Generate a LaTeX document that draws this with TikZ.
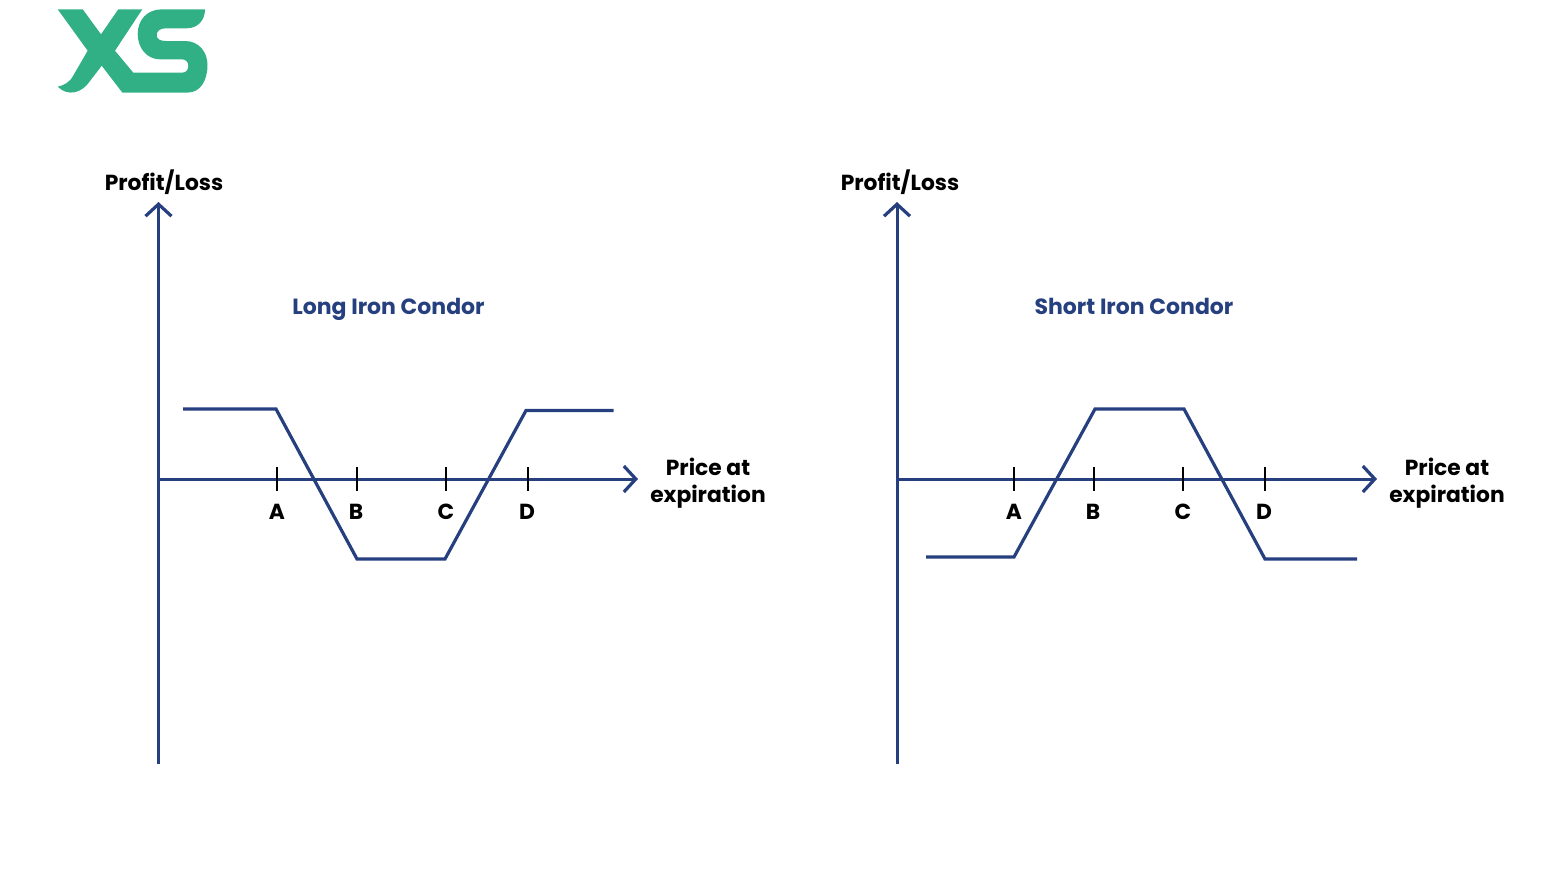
\documentclass[tikz,border=0pt]{standalone}
\usepackage{fontspec}
\setmainfont{Poppins}[UprightFont={* Bold}]
\usepackage{tikz}
\usetikzlibrary{arrows.meta}
\definecolor{navy}{HTML}{263F7F}
\definecolor{xsgreen}{HTML}{31B085}
\tikzset{
  axis/.style={draw=navy,line width=1.5pt,-{Straight Barb[length=6pt,width=13pt,line width=1.6pt]}},
  payoff/.style={draw=navy,line width=1.6pt},
  tick/.style={draw=black,line width=1pt},
  lab/.style={font=\fontsize{10.9}{13.5}\selectfont,align=center,inner sep=0pt,text=black,anchor=base},
  title/.style={font=\fontsize{11}{13.5}\selectfont,inner sep=0pt,text=navy,anchor=base}
}
\begin{document}
\begin{tikzpicture}[x=0.5pt,y=-0.5pt]
  \useasboundingbox (0,0) rectangle (1560,874);
  % logo
  \fill[xsgreen] (57.7,9.3) -- (82.7,9.3) -- (101,34.3) -- (118.3,9.3) -- (142.3,9.3)
    -- (115,50.7) -- (133.3,72.7) -- (181.7,72.7)
    .. controls (186,72.7) and (188.3,70) .. (188.3,66)
    .. controls (188.3,62) and (186,59.3) .. (181.7,59.3) -- (160,59.3)
    .. controls (146,59.3) and (137.7,47) .. (137.7,34)
    .. controls (137.7,20) and (147,9.3) .. (162,9.3) -- (205,9.3)
    .. controls (205,20) and (198,28.3) .. (186.7,28.3) -- (166,28.3)
    .. controls (160,28.3) and (156.7,31) .. (156.7,35)
    .. controls (156.7,39) and (160,41) .. (166,41) -- (185,41)
    .. controls (199,41) and (207.5,52) .. (207.5,65)
    .. controls (207.5,81) and (200,92.5) .. (188,92.5) -- (122.3,92.5) -- (101.7,65.7) -- (90,81)
    .. controls (82,93) and (68,97) .. (57.7,86.7)
    .. controls (64,85) and (69,83) .. (73,76) -- (87.7,50.7) -- cycle;

  % left panel
  \node[lab] (ylab_l) at (164,190) {Profit/Loss};
  \node[title] (title_l) at (388.5,314) {Long Iron Condor};
  \node[lab] (xprice_l) at (708,475) {Price at};
  \node[lab] (xexp_l) at (708,502) {expiration};
  \coordinate (o_l) at (158.5,479);
  \coordinate (bot_l) at (158.5,764);
  \coordinate (top_l) at (158.5,202);
  \coordinate (end_l) at (638,479);
  \draw[axis] (bot_l) -- (top_l);
  \draw[axis] (o_l) -- (end_l);
  \foreach \name/\xt/\xl in {A/277/277,B/357/356,C/446/446,D/528/527}{
    \coordinate (t\name_l) at (\xt,467);
    \coordinate (u\name_l) at (\xt,491);
    \draw[tick] (t\name_l) -- (u\name_l);
    \node[lab] (l\name_l) at (\xl,519) {\name};
  }
  \coordinate (p0_l) at (183,409);
  \coordinate (p1_l) at (276,409);
  \coordinate (p2_l) at (357,559);
  \coordinate (p3_l) at (445,559);
  \coordinate (p4_l) at (526,410.5);
  \coordinate (p5_l) at (613.5,410.5);
  \draw[payoff] (p0_l) -- (p1_l) -- (p2_l) -- (p3_l) -- (p4_l) -- (p5_l);

  % right panel
  \node[lab] (ylab_r) at (900,190) {Profit/Loss};
  \node[title] (title_r) at (1134,314) {Short Iron Condor};
  \node[lab] (xprice_r) at (1447,475) {Price at};
  \node[lab] (xexp_r) at (1447,502) {expiration};
  \coordinate (o_r) at (897,479);
  \coordinate (bot_r) at (897,764);
  \coordinate (top_r) at (897,202);
  \coordinate (end_r) at (1377,479);
  \draw[axis] (bot_r) -- (top_r);
  \draw[axis] (o_r) -- (end_r);
  \foreach \name/\xt/\xl in {A/1014/1014,B/1094/1093,C/1183/1183,D/1265/1264}{
    \coordinate (t\name_r) at (\xt,467);
    \coordinate (u\name_r) at (\xt,491);
    \draw[tick] (t\name_r) -- (u\name_r);
    \node[lab] (l\name_r) at (\xl,519) {\name};
  }
  \coordinate (p0_r) at (926,557);
  \coordinate (p1_r) at (1014,557);
  \coordinate (p2_r) at (1095,409);
  \coordinate (p3_r) at (1184,409);
  \coordinate (p4_r) at (1265,559);
  \coordinate (p5_r) at (1357,559);
  \draw[payoff] (p0_r) -- (p1_r) -- (p2_r) -- (p3_r) -- (p4_r) -- (p5_r);
\end{tikzpicture}
\end{document}
